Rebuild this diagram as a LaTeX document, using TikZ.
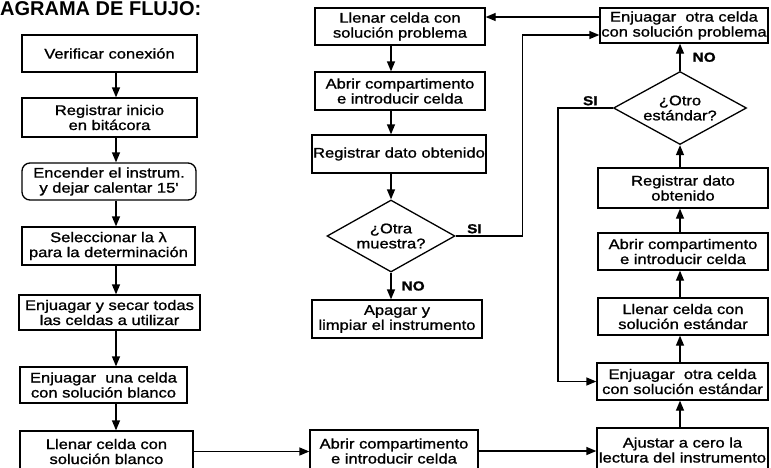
\documentclass[tikz,border=0pt]{standalone}
\usepackage{fontspec}
\setmainfont{Liberation Sans}
\newfontfamily\cajafont{Liberation Sans}[FakeStretch=1.18,FakeBold=1.2]
\usetikzlibrary{arrows.meta,shapes.geometric,calc}
\tikzset{
  paso/.style={draw,line width=1.3pt,inner sep=1pt,align=center,
    font=\cajafont\fontsize{14}{15}\selectfont,minimum width=170pt,minimum height=37pt},
  decision/.style={draw,diamond,aspect=1.8,line width=1.3pt,inner sep=0pt,align=center,
    font=\cajafont\fontsize{14}{15}\selectfont,minimum width=128pt,minimum height=72pt},
  arr/.style={-{Triangle[length=10pt,width=8pt]},line width=1.3pt},
  etq/.style={font=\cajafont\bfseries\fontsize{13}{13}\selectfont,inner sep=2pt},
}

\begin{document}
\begin{tikzpicture}[x=1pt,y=-1pt]
\useasboundingbox (0,0) rectangle (771,467);
\node[anchor=base west,inner sep=0pt,font=\bfseries\fontsize{20}{20}\selectfont] (titulo) at (0,15) {AGRAMA DE FLUJO:};

% columna izquierda
\node[paso,minimum width=175pt] (verif) at (109.5,53.5) {Verificar conexión};
\node[paso,minimum width=175pt,minimum height=39pt] (regini) at (109.5,117.5) {Registrar inicio\\en bitácora};
\node[paso,rounded corners=8pt,minimum width=174pt] (encender) at (109,181.5) {Encender el instrum.\\y dejar calentar 15'};
\node[paso,minimum width=173pt,minimum height=38pt] (lambda) at (108.5,246) {Seleccionar la λ\\para la determinación};
\node[paso,minimum width=181pt,minimum height=35pt] (secar) at (109.5,312.5) {Enjuagar y secar todas\\las celdas a utilizar};
\node[paso,minimum width=167pt,minimum height=36pt] (enjblanco) at (103.5,385) {Enjuagar\ \ una celda\\con solución blanco};
\node[paso,minimum width=173pt,minimum height=41pt] (llenblanco) at (106.5,451.5) {Llenar celda con\\solución blanco};

% columna central
\node[paso] (llenprob) at (400,26.5) {Llenar celda con\\solución problema};
\node[paso,minimum height=38pt] (abrir1) at (400,91) {Abrir compartimento\\e introducir celda};
\node[paso,minimum width=172pt,minimum height=38pt] (regdato1) at (399,154) {Registrar dato obtenido};
\node[decision] (otramuestra) at (391,236) {¿Otra\\muestra?};
\node[paso,minimum height=38pt] (apagar) at (397,319) {Apagar y\\limpiar el instrumento};
\node[paso,minimum width=168pt,minimum height=42pt] (abrir0) at (394,451) {Abrir compartimento\\e introducir celda};

% columna derecha
\node[paso,minimum width=168pt,minimum height=35pt] (enjprob) at (684,25.5) {Enjuagar\ \ otra celda\\con solución problema};
\node[decision,minimum width=133pt,minimum height=73pt] (otroest) at (680,108) {¿Otro\\estándar?};
\node[paso,minimum height=40pt] (regdato2) at (683,188) {Registrar dato\\obtenido};
\node[paso] (abrir2) at (683,251.5) {Abrir compartimento\\e introducir celda};
\node[paso] (llenest) at (683,316.5) {Llenar celda con\\solución estándar};
\node[paso,minimum width=171pt] (enjest) at (682.5,381.5) {Enjuagar\ \ otra celda\\con solución estándar};
\node[paso,minimum width=171pt,minimum height=44pt] (ajustar) at (682.5,450) {Ajustar a cero la\\lectura del instrumento};

% flechas
\coordinate (lx) at (116,0);
\foreach \a/\b in {verif/regini,regini/encender,encender/lambda,lambda/secar,secar/enjblanco,enjblanco/llenblanco}
  \draw[arr] (\a.south -| lx) -- (\b.north -| lx);
\draw[arr] (llenblanco.east) -- (llenblanco.east -| abrir0.west);
\draw[arr] (abrir0.east) -- (abrir0.east -| ajustar.west);

\foreach \a/\b in {ajustar/enjest,enjest/llenest,llenest/abrir2,abrir2/regdato2}
  \draw[arr] (\a.north -| otroest) -- (\b.south -| otroest);
\draw[arr] (regdato2.north -| otroest) -- (otroest.south);
\draw[arr] (otroest.north) -- (otroest.north |- enjprob.south) node[etq,midway,right,xshift=10pt] {NO};
\draw[arr] (otroest.west) -- ++(-55,0) node[etq,pos=0.41,above] {SI} |- (enjest.west);

\draw[arr] ([yshift=8.5pt]enjprob.west) -- ([yshift=8.5pt]enjprob.west -| llenprob.east);
\foreach \a/\b in {llenprob/abrir1,abrir1/regdato1}
  \draw[arr] (\a.south -| otramuestra) -- (\b.north -| otramuestra);
\draw[arr] (regdato1.south -| otramuestra) -- (otramuestra.north);
\draw[arr] (otramuestra.south) -- (otramuestra.south |- apagar.north) node[etq,midway,right,xshift=8pt] {NO};
\draw[arr] (otramuestra.east) -- ++(67,0) node[etq,pos=0.28,above] {SI} |- ([yshift=-9.5pt]enjprob.west);
\end{tikzpicture}
\end{document}
